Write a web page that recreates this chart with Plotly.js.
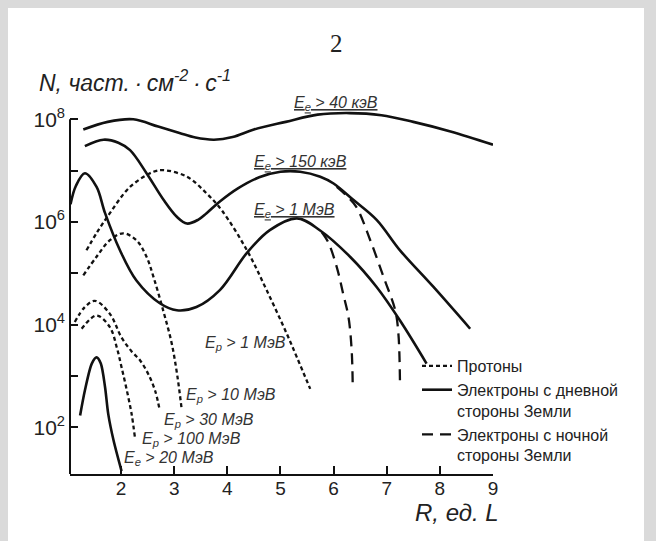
<!DOCTYPE html>
<html>
<head>
<meta charset="utf-8">
<script src="https://cdn.plot.ly/plotly-3.0.1.min.js"></script>
<style>
html,body{margin:0;padding:0;background:#dadada;width:656px;height:541px;overflow:hidden;}
#bg{position:absolute;left:8px;top:8px;width:636px;height:533px;background:#ffffff;}
#chart{position:absolute;left:0;top:0;width:656px;height:541px;}
</style>
</head>
<body>
<div id="bg"></div>
<div id="chart"></div>
<script>
// ---- data (R in L units, N in particles cm^-2 s^-1) ----
const R_e40 = [1.29, 1.75, 2.23, 2.7, 3.1, 3.4, 3.75, 4.1, 4.5, 5.1, 5.7, 6.3, 6.9, 7.5, 8.2, 9.0];
const N_e40 = [6.3e7, 8.9e7, 1.0e8, 7.2e7, 5.4e7, 4.4e7, 4.0e7, 4.5e7, 6.3e7, 8.9e7, 1.23e8, 1.32e8, 1.2e8, 8.9e7, 5.8e7, 3.2e7];

const R_e150 = [1.32, 1.67, 1.95, 2.17, 2.48, 2.80, 3.05, 3.24, 3.45, 3.61, 3.86, 4.2, 4.6, 5.0, 5.37, 5.75, 6.0, 6.37, 6.81, 7.25, 7.88, 8.57];
const N_e150 = [3.0e7, 4.0e7, 3.5e7, 2.5e7, 8.9e6, 2.7e6, 1.26e6, 9.3e5, 1.1e6, 1.48e6, 2.5e6, 4.5e6, 7.4e6, 9.5e6, 9.5e6, 7.6e6, 5.6e6, 2.7e6, 1.1e6, 2.8e5, 5.4e4, 8.3e3];
const R_e150n = [6.06, 6.25, 6.43, 6.69, 6.94, 7.16, 7.22, 7.25];
const N_e150n = [4.8e6, 3.2e6, 1.95e6, 4.4e5, 8.5e4, 1.9e4, 6.6e3, 7.1e2];

const R_e1 = [1.05, 1.15, 1.32, 1.54, 1.70, 1.98, 2.29, 2.73, 3.05, 3.42, 3.86, 4.37, 4.80, 5.31, 5.74, 6.31, 6.81, 7.25, 7.75];
const N_e1 = [2.2e6, 5.0e6, 8.9e6, 4.8e6, 1.48e6, 2.8e5, 7.2e4, 2.6e4, 1.9e4, 2.2e4, 4.7e4, 2.5e5, 6.9e5, 1.17e6, 6.9e5, 2.1e5, 5.4e4, 1.2e4, 1.74e3];
const R_e1n = [5.78, 5.90, 6.06, 6.18, 6.28, 6.34, 6.36];
const N_e1n = [6.3e5, 4.0e5, 1.32e5, 4.0e4, 1.41e4, 3.2e3, 6.6e2];

const R_p1 = [1.35, 1.55, 1.79, 2.17, 2.61, 2.80, 3.24, 3.61, 3.90, 4.37, 4.74, 5.12, 5.31, 5.56];
const N_p1 = [2.8e5, 6.3e5, 1.48e6, 4.8e6, 9.5e6, 1.02e7, 7.6e6, 3.6e6, 1.66e6, 2.8e5, 4.7e4, 6.6e3, 2.3e3, 5.6e2];

const R_p10 = [1.29, 1.54, 1.79, 2.04, 2.29, 2.48, 2.62, 2.80, 2.95, 3.06, 3.14];
const N_p10 = [9.1e4, 2.1e5, 4.4e5, 6.0e5, 4.4e5, 2.1e5, 7.9e4, 1.78e4, 4.5e3, 1.0e3, 2.3e2];

const R_p30 = [1.13, 1.32, 1.51, 1.79, 2.01, 2.20, 2.36, 2.51, 2.64, 2.73];
const N_p30 = [1.12e4, 2.2e4, 2.9e4, 1.62e4, 5.6e3, 3.0e3, 2.0e3, 1.1e3, 5.2e2, 2.1e2];

const R_p100 = [1.26, 1.54, 1.79, 1.92, 2.01, 2.11, 2.20, 2.26];
const N_p100 = [8.3e3, 1.5e4, 8.9e3, 3.6e3, 1.48e3, 5.2e2, 1.8e2, 65];

const R_e20 = [1.23, 1.32, 1.45, 1.54, 1.62, 1.70, 1.76, 1.86, 2.01];
const N_e20 = [1.7e2, 5.2e2, 1.74e3, 2.3e3, 1.74e3, 6.0e2, 1.8e2, 55, 14];

const xTicks = [2, 3, 4, 5, 6, 7, 8, 9];
const yTickVals = [1e2, 1e3, 1e4, 1e5, 1e6, 1e7, 1e8];
const yTickText = ['10<sup>2</sup>', '', '10<sup>4</sup>', '', '10<sup>6</sup>', '', '10<sup>8</sup>'];

const legProtons = 'Протоны';
const legDay = 'Электроны с дневной<br>стороны Земли';
const legNight = 'Электроны с ночной<br>стороны Земли';

const curveLabels = [
  {t: '<u>E<sub>e</sub> > 40 кэВ</u>', px: 336, py: 103},
  {t: '<u>E<sub>e</sub> > 150 кэВ</u>', px: 300, py: 163},
  {t: '<u>E<sub>e</sub> > 1 МэВ</u>', px: 294, py: 210},
  {t: 'E<sub>p</sub> > 1 МэВ', px: 245, py: 343},
  {t: 'E<sub>p</sub> > 10 МэВ', px: 231, py: 395},
  {t: 'E<sub>p</sub> > 30 МэВ', px: 209, py: 420},
  {t: 'E<sub>p</sub> > 100 МэВ', px: 191, py: 439},
  {t: 'E<sub>e</sub> > 20 МэВ', px: 169, py: 458}
];

// ---- geometry ----
const W = 656, H = 541;
const M = {l: 70, r: 163, t: 109, b: 67};
const PW = W - M.l - M.r, PH = H - M.t - M.b;
const fx = px => (px - M.l) / PW;
const fy = py => (H - M.b - py) / PH;
const yRange = [1.089, 8.2];

const SANS = 'Liberation Sans, Arial, Helvetica, sans-serif';
const DOT = '4px,3px', DASH = '11px,7px';
const TS = '\u2009';

function tr(x, y, dash, width, name, show, rank, smooth) {
  return {
    x: x, y: y, type: 'scatter', mode: 'lines',
    line: {color: '#111', width: width, dash: dash, shape: 'spline', smoothing: smooth || 1},
    name: name, showlegend: show, legendrank: rank, hoverinfo: 'skip'
  };
}

const data = [
  tr(R_p1, N_p1, DOT, 2.3, legProtons, true, 1),
  tr(R_p10, N_p10, DOT, 2.3, legProtons, false, 1),
  tr(R_p30, N_p30, DOT, 2.3, legProtons, false, 1),
  tr(R_p100, N_p100, DOT, 2.3, legProtons, false, 1),
  tr(R_e40, N_e40, 'solid', 2.6, legDay, true, 2),
  tr(R_e150, N_e150, 'solid', 2.6, legDay, false, 2),
  tr(R_e1, N_e1, 'solid', 2.6, legDay, false, 2),
  tr(R_e20, N_e20, 'solid', 2.6, legDay, false, 2, 0.8),
  tr(R_e150n, N_e150n, DASH, 2.3, legNight, true, 3),
  tr(R_e1n, N_e1n, DASH, 2.3, legNight, false, 3)
];

const annotations = curveLabels.map(c => ({
  text: '<i>' + c.t + '</i>', xref: 'paper', yref: 'paper',
  x: fx(c.px), y: fy(c.py), xanchor: 'center', yanchor: 'middle',
  showarrow: false, font: {family: SANS, size: 16, color: '#333'}
}));
annotations.push({
  text: '2', xref: 'paper', yref: 'paper', x: fx(336), y: fy(43),
  xanchor: 'center', yanchor: 'middle', showarrow: false,
  font: {family: 'Liberation Serif, Times New Roman, serif', size: 25, color: '#222'}
});
annotations.push({
  text: '<i>N, част.' + TS + '·' + TS + 'см<sup>-2</sup>' + TS + '·' + TS + 'с<sup>-1</sup></i>',
  xref: 'paper', yref: 'paper',
  x: fx(37), y: fy(81), xanchor: 'left', yanchor: 'middle', showarrow: false,
  font: {family: SANS, size: 23, color: '#222'}
});
annotations.push({
  text: '<i>R, ед. L</i>', xref: 'paper', yref: 'paper',
  x: fx(457), y: fy(512), xanchor: 'center', yanchor: 'middle', showarrow: false,
  font: {family: SANS, size: 24, color: '#222'}
});

const layout = {
  width: W, height: H,
  margin: M,
  paper_bgcolor: 'rgba(0,0,0,0)', plot_bgcolor: 'rgba(0,0,0,0)',
  showlegend: true,
  legend: {
    x: fx(417), y: fy(349), xanchor: 'left', yanchor: 'top',
    bgcolor: 'rgba(0,0,0,0)', borderwidth: 0, valign: 'top',
    font: {family: SANS, size: 16, color: '#222'}, tracegroupgap: 0
  },
  xaxis: {
    range: [1.04, 9], tickvals: xTicks, ticks: 'inside', ticklen: 8, tickwidth: 2,
    tickcolor: '#111', showline: true, linewidth: 2, linecolor: '#111',
    showgrid: false, zeroline: false, ticklabelstandoff: -4,
    tickfont: {family: SANS, size: 19, color: '#222'}
  },
  yaxis: {
    type: 'log', range: yRange, tickvals: yTickVals, ticktext: yTickText,
    ticks: 'inside', ticklen: 8, tickwidth: 2, tickcolor: '#111',
    showline: false, showgrid: false, zeroline: false, ticklabelstandoff: 4,
    tickfont: {family: SANS, size: 21, color: '#222'}
  },
  shapes: [{
    type: 'line', xref: 'paper', yref: 'paper', x0: 0, x1: 0,
    y0: 0, y1: (8 - yRange[0]) / (yRange[1] - yRange[0]),
    line: {color: '#111', width: 2}
  }],
  annotations: annotations
};

Plotly.newPlot('chart', data, layout, {displayModeBar: false, staticPlot: true});
</script>
</body>
</html>
